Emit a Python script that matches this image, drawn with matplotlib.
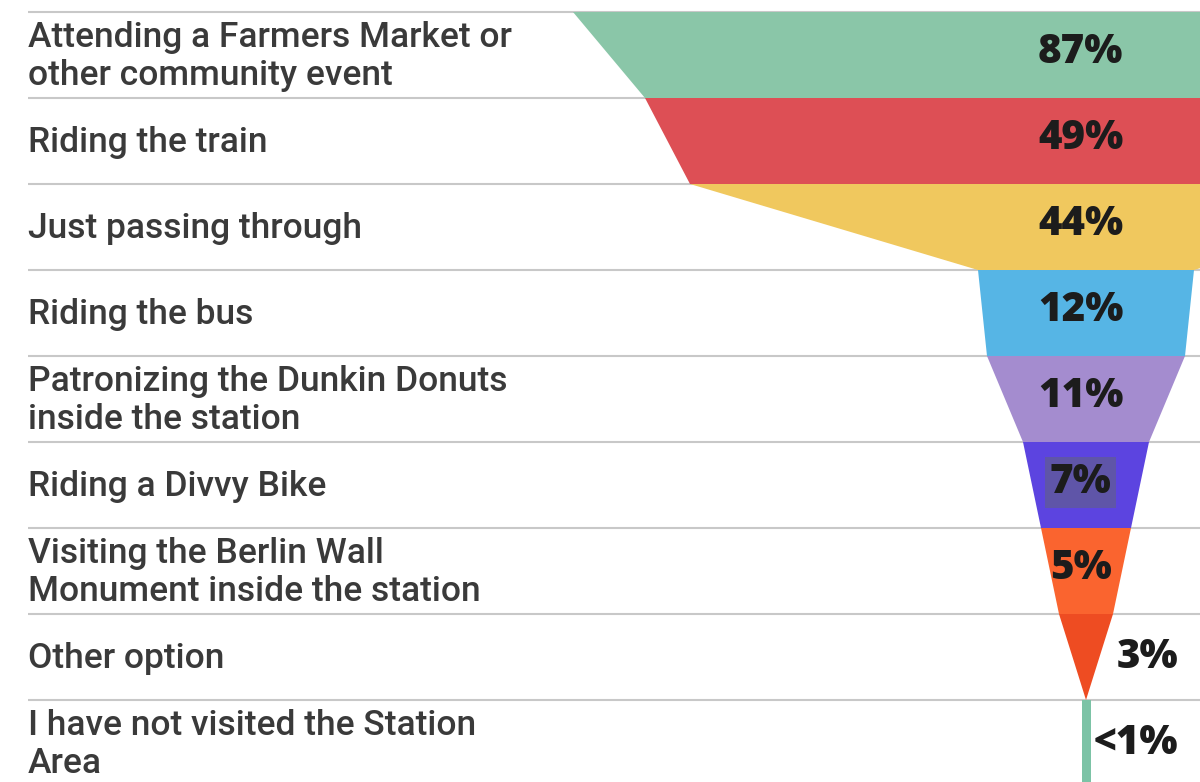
"""Funnel of station-area visit reasons, recreated with matplotlib."""

import matplotlib

matplotlib.use("Agg")
import matplotlib.pyplot as plt
from matplotlib.patches import Polygon

CATEGORIES = [
    "Attending a Farmers Market or\nother community event",
    "Riding the train",
    "Just passing through",
    "Riding the bus",
    "Patronizing the Dunkin Donuts\ninside the station",
    "Riding a Divvy Bike",
    "Visiting the Berlin Wall\nMonument inside the station",
    "Other option",
    "I have not visited the Station\nArea",
]
VALUES = [87, 49, 44, 12, 11, 7, 5, 3, 0.5]
VALUE_LABELS = ["87%", "49%", "44%", "12%", "11%", "7%", "5%", "3%", "<1%"]
COLORS = [
    "#8ac6a8", "#dd4f55", "#f0c85e", "#56b5e5", "#a48ccf",
    "#5c44e0", "#fa642f", "#ee4c22", "#7cc3a6",
]

# layout (pixels of the 1200x782 output)
W, H = 1200, 782
CENTER_PX = 1086
PX_PER_PCT = 18.0      # full funnel width per percentage point
FUNNEL_MAX = 57.0      # funnel area is narrower than the 87% value
TOP_PX = 12
ROW_PX = 86
LABEL_X_PX = 28
OUTSIDE_BELOW = 5      # values below this get their label outside

fig = plt.figure(figsize=(W / 100, H / 100), dpi=100)
ax = fig.add_axes([0, 0, 1, 1])
ax.set_xlim(-CENTER_PX / PX_PER_PCT, (W - CENTER_PX) / PX_PER_PCT)
ax.set_ylim((H - TOP_PX) / ROW_PX, -TOP_PX / ROW_PX)
ax.axis("off")

n = len(VALUES)
label_x = ax.get_xlim()[0] + LABEL_X_PX / PX_PER_PCT

# row separators
for i in range(n):
    ax.plot([label_x, ax.get_xlim()[1]], [i, i], color="#c8c8c8", lw=1.5,
            zorder=1, solid_capstyle="butt")

for i, (cat, v, lab, col) in enumerate(zip(CATEGORIES, VALUES, VALUE_LABELS, COLORS)):
    top = min(v, FUNNEL_MAX) / 2
    if i + 1 < n:
        bottom = min(VALUES[i + 1], FUNNEL_MAX) / 2
        if i + 1 == n - 1:
            bottom = 0.0
    else:
        bottom = top
    poly = Polygon(
        [(-top, i), (top, i), (bottom, i + 1), (-bottom, i + 1)],
        closed=True, facecolor=col, edgecolor="none", zorder=2,
    )
    ax.add_patch(poly)

    ax.text(label_x, i + 0.52, cat, ha="left", va="center", fontsize=25.5,
            family="Roboto", weight="medium", color="#3a3a3a", linespacing=1.2,
            zorder=3)

    if v < OUTSIDE_BELOW:
        ax.text(top + 0.2, i + 0.5, lab, ha="left", va="center", fontsize=29,
                family="Open Sans", weight=800, color="#1c1c1c", zorder=4)
    else:
        box = None
        if lab == "7%":
            box = dict(boxstyle="square,pad=0.12", facecolor="#5f55a8", edgecolor="none")
        ax.text(-0.3, i + 0.47, lab, ha="center", va="center", fontsize=29,
                family="Open Sans", weight=800, color="#1c1c1c", zorder=4,
                bbox=box)

fig.savefig("out.png", dpi=100)
plt.close(fig)
